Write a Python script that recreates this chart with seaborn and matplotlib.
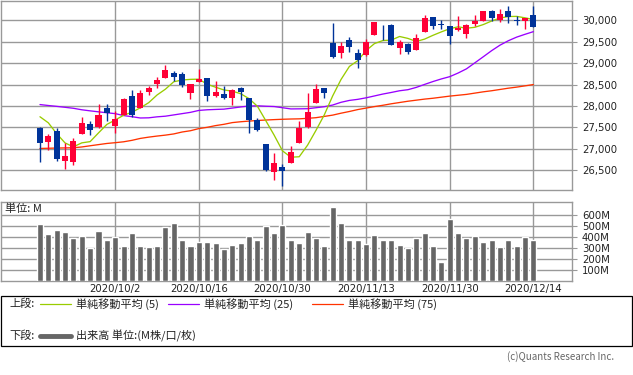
import pandas as pd
import seaborn as sns
import matplotlib.pyplot as plt
from matplotlib.patches import Rectangle
from matplotlib.lines import Line2D

# daily bars 2020/9/21 - 2020/12/14
opens = [27488, 27153, 27410, 26718, 26687, 27348, 27573, 27503, 27954, 27527,
         27799, 28227, 27954, 28320, 28507, 28654, 28763, 28740, 28304, 28561,
         28647, 28227, 28273, 28180, 28413, 28180, 27667, 27107, 26461, 26570,
         26663, 27138, 27503, 28071, 28413, 29463, 29238, 29533, 29238, 29183,
         29658, 29782, 29883, 29354, 29448, 29308, 29728, 30070, 29907, 29860,
         29767, 29681, 29907, 29984, 30233, 30000, 30226, 30008, 29984, 30117]
highs = [27500, 27340, 27488, 27122, 27254, 27737, 27636, 28040, 28040, 27877,
         28180, 28382, 28367, 28460, 28678, 28950, 28818, 28794, 28522, 28857,
         28655, 28577, 28460, 28406, 28437, 28190, 27713, 27115, 26897, 26640,
         27060, 27643, 28297, 28507, 28429, 29938, 29487, 29603, 29323, 29557,
         29960, 29883, 29922, 29549, 29463, 29673, 30117, 30078, 30016, 29868,
         30093, 29907, 30117, 30218, 30240, 30257, 30327, 30093, 30055, 30327]
lows = [26694, 26967, 26710, 26531, 26624, 27340, 27316, 27495, 27651, 27371,
        27790, 27744, 27945, 28258, 28421, 28645, 28577, 28444, 28164, 28555,
        28118, 28220, 28170, 28017, 28133, 27371, 27425, 26484, 26274, 26134,
        26655, 27130, 27495, 28063, 28188, 29113, 29121, 29253, 28888, 29175,
        29650, 29533, 29416, 29222, 29222, 29300, 29720, 29798, 29798, 29448,
        29760, 29588, 29860, 29976, 29984, 29961, 29946, 29883, 29798, 29844]
closes = [27138, 27293, 26764, 26834, 27184, 27604, 27441, 27783, 27830, 27698,
          28157, 27799, 28297, 28429, 28600, 28833, 28670, 28499, 28507, 28623,
          28242, 28320, 28180, 28367, 28320, 27667, 27433, 26500, 26663, 26484,
          26920, 27488, 27853, 28390, 28304, 29137, 29409, 29378, 29067, 29487,
          29953, 29767, 29424, 29494, 29261, 29596, 30047, 29868, 29891, 29634,
          29813, 29883, 29977, 30210, 30047, 30156, 30070, 29992, 30047, 29844]
ma5 = [27747, 27605, 27351, 27134, 27043, 27136, 27165, 27369, 27568, 27671,
       27782, 27853, 27956, 28076, 28256, 28392, 28566, 28606, 28622, 28626,
       28508, 28438, 28374, 28346, 28286, 28171, 27993, 27657, 27317, 26949,
       26800, 26811, 27082, 27427, 27791, 28234, 28619, 28924, 29059, 29296,
       29459, 29530, 29540, 29625, 29580, 29508, 29564, 29653, 29733, 29807,
       29851, 29818, 29840, 29903, 29986, 30055, 30092, 30095, 30062, 30022]
ma25 = [28032, 28010, 27990, 27968, 27945, 27910, 27885, 27862, 27840, 27820,
        27775, 27748, 27718, 27722, 27745, 27760, 27790, 27820, 27850, 27895,
        27910, 27918, 27925, 27950, 27976, 27998, 28003, 27993, 27986, 27958,
        27930, 27932, 27935, 27958, 27982, 28021, 28085, 28129, 28154, 28190,
        28234, 28278, 28315, 28355, 28380, 28434, 28504, 28571, 28632, 28685,
        28770, 28868, 29008, 29149, 29292, 29421, 29525, 29610, 29676, 29738]
ma75 = [27005, 27010, 27015, 27018, 27021, 27040, 27068, 27095, 27122, 27140,
        27161, 27195, 27240, 27270, 27295, 27317, 27345, 27390, 27420, 27470,
        27500, 27540, 27570, 27610, 27630, 27645, 27660, 27670, 27680, 27688,
        27694, 27698, 27710, 27725, 27755, 27785, 27830, 27870, 27915, 27950,
        27985, 28015, 28050, 28080, 28110, 28135, 28160, 28180, 28205, 28230,
        28250, 28270, 28300, 28330, 28355, 28385, 28415, 28440, 28470, 28500]
volume = [520, 428, 460, 443, 390, 406, 305, 452, 370, 397,
          323, 434, 323, 314, 323, 492, 526, 370, 323, 360,
          360, 351, 295, 332, 351, 406, 370, 498, 434, 508,
          378, 351, 443, 390, 323, 677, 526, 370, 370, 342,
          415, 370, 378, 332, 305, 388, 434, 323, 175, 563,
          434, 388, 406, 360, 370, 314, 378, 323, 397, 370]

tick_pos = [9, 19, 29, 39, 49, 59]
tick_labels = ['2020/10/2', '2020/10/16', '2020/10/30', '2020/11/13', '2020/11/30', '2020/12/14']
price_ticks = [26500, 27000, 27500, 28000, 28500, 29000, 29500, 30000]
vol_ticks = [100, 200, 300, 400, 500, 600]

df = pd.DataFrame({'idx': range(len(closes)), 'open': opens, 'high': highs, 'low': lows,
                   'close': closes, 'ma5': ma5, 'ma25': ma25, 'ma75': ma75, 'volume': volume})

sns.set_style('white')
plt.rcParams['font.family'] = ['Noto Sans CJK JP', 'DejaVu Sans']

W, H = 633, 375
fig = plt.figure(figsize=(W / 100, H / 100), dpi=100)


def rect(x0, y0, x1, y1):
    return [x0 / W, 1 - y1 / H, (x1 - x0) / W, (y1 - y0) / H]


ax1 = fig.add_axes(rect(0.5, 0.5, 571.5, 190))
ax2 = fig.add_axes(rect(0.5, 202, 571.5, 281.3))

GRID = '#999999'
RED = '#ff0036'
BLUE = '#003399'
xlim = (-4.72, 63.56)

# --- price panel ---
sns.lineplot(data=df, x='idx', y='ma75', color='#ff3300', lw=0.95, ax=ax1)
sns.lineplot(data=df, x='idx', y='ma25', color='#9900ff', lw=0.95, ax=ax1)
sns.lineplot(data=df, x='idx', y='ma5', color='#99cc00', lw=0.95, ax=ax1)

up = df['close'] >= df['open']
cols = [RED if u else BLUE for u in up]
ax1.vlines(df['idx'], df['low'], df['high'], colors=cols, lw=1.0, zorder=3)
body_lo = df[['open', 'close']].min(axis=1)
body_h = (df['close'] - df['open']).abs().clip(lower=20)
ax1.bar(df['idx'], body_h, bottom=body_lo, width=0.72, color=cols, zorder=4, linewidth=0)

ax1.set_xlim(*xlim)
ax1.set_ylim(26033, 30467)
ax1.set_xticks(tick_pos)
ax1.set_xticklabels([])
ax1.set_yticks(price_ticks)
ax1.set_yticklabels([f'{v:,}' for v in price_ticks], family='DejaVu Sans')
ax1.yaxis.tick_right()
ax1.tick_params(axis='x', length=0)
ax1.tick_params(axis='y', length=3.6, width=0.8, color=GRID, labelsize=7.3, pad=4, labelcolor='#222222')
ax1.set_xlabel('')
ax1.set_ylabel('')

# --- volume panel ---
sns.barplot(data=df, x='idx', y='volume', native_scale=True, color='#666666',
            saturation=1, width=0.72, errorbar=None, ax=ax2, zorder=3)
ax2.set_xlim(*xlim)
ax2.set_ylim(0, 718)
ax2.set_xticks(tick_pos)
ax2.set_xticklabels(tick_labels, family='DejaVu Sans')
ax2.set_yticks(vol_ticks)
ax2.set_yticklabels([f'{v}M' for v in vol_ticks], family='DejaVu Sans')
ax2.yaxis.tick_right()
ax2.tick_params(axis='x', length=0, labelsize=7.3, pad=2, labelcolor='#222222')
ax2.tick_params(axis='y', length=3.6, width=0.8, color=GRID, labelsize=7.3, pad=4, labelcolor='#222222')
ax2.set_xlabel('')
ax2.set_ylabel('')

for ax in (ax1, ax2):
    ax.grid(True, color=GRID, lw=1.0)
    ax.set_axisbelow(True)
    for s in ax.spines.values():
        s.set_color(GRID)
        s.set_linewidth(1.0)

fig.text(5 / W, 1 - 209 / H, '単位: M', fontsize=8, va='center', color='#222222')

# --- legend box ---
fig.add_artist(Rectangle((0.5 / W, 1 - 346 / H), 631.5 / W, 50 / H, transform=fig.transFigure,
                         fill=False, ec='black', lw=0.9))


def legend_item(x0, x1, y, color, lw, label):
    fig.add_artist(Line2D([x0 / W, x1 / W], [1 - y / H, 1 - y / H], transform=fig.transFigure,
                          color=color, lw=lw))
    fig.text((x1 + 5) / W, 1 - y / H, label, fontsize=8, va='center', color='#222222')


fig.text(9 / W, 1 - 304 / H, '上段:', fontsize=8, va='center', color='#222222')
legend_item(40, 71, 304, '#99cc00', 0.9, '単純移動平均 (5)')
legend_item(168, 199, 304, '#9900ff', 0.9, '単純移動平均 (25)')
legend_item(312, 343, 304, '#ff3300', 0.9, '単純移動平均 (75)')
fig.text(9 / W, 1 - 336 / H, '下段:', fontsize=8, va='center', color='#222222')
legend_item(40, 71, 336, '#666666', 3.5, '出来高 単位:(M株/口/枚)')

fig.text(614 / W, 1 - 357 / H, '(c)Quants Research Inc.', fontsize=7, ha='right', va='center',
         color='#666666')

fig.savefig('out.png', dpi=100)
